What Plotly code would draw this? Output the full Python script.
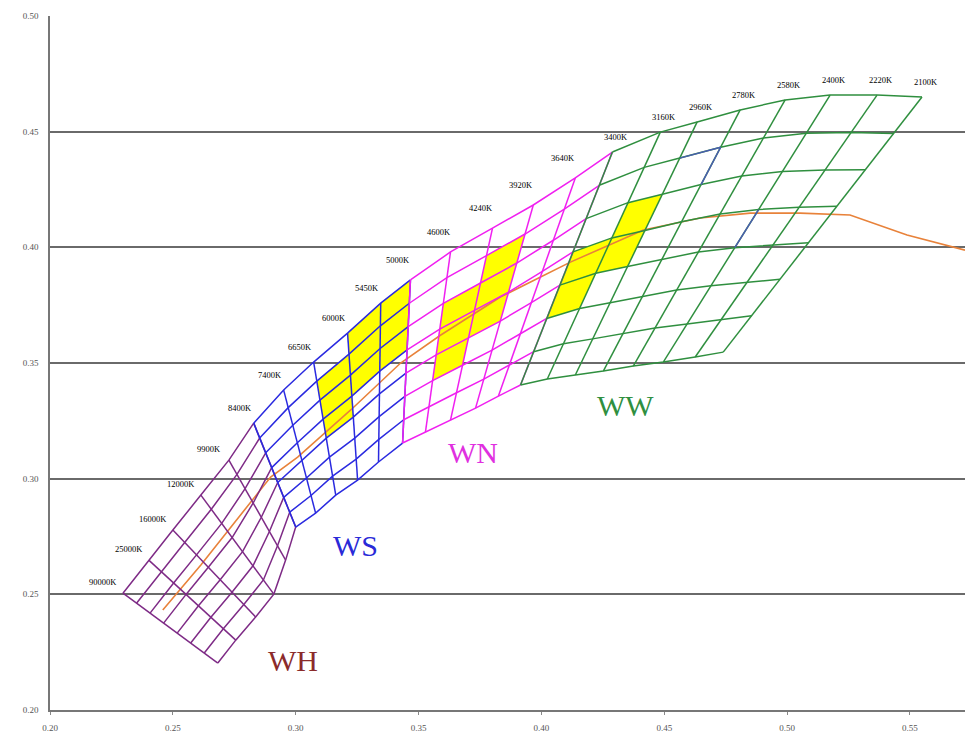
import plotly.graph_objects as go

# ---- Planckian locus (x, y) ----
locus_x = [0.2459, 0.2614, 0.2898, 0.3008, 0.3224, 0.3427, 0.3589, 0.3833, 0.4118, 0.4415, 0.4646, 0.4850, 0.5053, 0.5256, 0.5488, 0.5724]
locus_y = [0.2432, 0.2627, 0.3007, 0.3093, 0.3297, 0.3500, 0.3620, 0.3785, 0.3936, 0.4075, 0.4127, 0.4148, 0.4148, 0.4140, 0.4053, 0.3988]

# ---- WH zone: isotherms (upper end -> lower end) ----
wh_cct = ["90000K", "25000K", "16000K", "12000K", "9900K", "8400K"]
wh_top_x = [0.2297, 0.2402, 0.2500, 0.2614, 0.2728, 0.2829]
wh_top_y = [0.2505, 0.2648, 0.2778, 0.2929, 0.3080, 0.3240]
wh_bot_x = [0.2683, 0.2756, 0.2837, 0.2911, 0.2959, 0.3000]
wh_bot_y = [0.2203, 0.2302, 0.2402, 0.2501, 0.2648, 0.2791]

# ---- WS zone ----
ws_cct = ["8400K", "7400K", "6650K", "6000K", "5450K", "5000K"]
ws_top_x = [0.2829, 0.2951, 0.3073, 0.3211, 0.3346, 0.3467]
ws_top_y = [0.3240, 0.3383, 0.3504, 0.3629, 0.3759, 0.3859]
ws_bot_x = [0.3000, 0.3081, 0.3163, 0.3252, 0.3337, 0.3435]
ws_bot_y = [0.2791, 0.2851, 0.2929, 0.2994, 0.3072, 0.3154]

# ---- WN zone ----
wn_cct = ["5000K", "4600K", "4240K", "3920K", "3640K", "3400K"]
wn_top_x = [0.3467, 0.3630, 0.3801, 0.3967, 0.4138, 0.4289]
wn_top_y = [0.3859, 0.3980, 0.4083, 0.4183, 0.4300, 0.4412]
wn_bot_x = [0.3435, 0.3528, 0.3630, 0.3732, 0.3825, 0.3915]
wn_bot_y = [0.3154, 0.3201, 0.3253, 0.3305, 0.3357, 0.3405]

# ---- WW zone ----
ww_cct = ["3400K", "3160K", "2960K", "2780K", "2580K", "2400K", "2220K", "2100K"]
ww_top_x = [0.4289, 0.4484, 0.4634, 0.4809, 0.4992, 0.5175, 0.5366, 0.5549]
ww_top_y = [0.4412, 0.4498, 0.4542, 0.4594, 0.4637, 0.4658, 0.4658, 0.4650]
ww_bot_x = [0.3915, 0.4024, 0.4138, 0.4252, 0.4374, 0.4496, 0.4626, 0.4740]
ww_bot_y = [0.3405, 0.3431, 0.3448, 0.3465, 0.3487, 0.3504, 0.3526, 0.3547]

# Duv subdivisions per zone
rows = {"WH": 7, "WS": 7, "WN": 7, "WW": 7}

# highlighted bins: (column between isotherm i and i+1, row j counted from the top)
ws_hi = [(2, 1), (2, 2), (2, 3), (3, 0), (3, 1), (3, 2), (4, 0), (4, 1), (4, 2)]
wn_hi = [(1, 2), (1, 3), (1, 4), (2, 1), (2, 2), (2, 3)]
ww_hi = [(0, 3), (0, 4), (1, 2), (1, 3)]

# WW edges drawn in blue: isotherm pieces (isotherm, from row line, to row line)
# and a Duv piece (row line, from isotherm, to isotherm)
ww_blue_iso = [(3, 1, 2), (5, 3, 4)]
ww_blue_duv = [(1, 2, 3)]

# zone: name, CCTs, isotherm ends, line colour, highlighted bins, name colour,
# name position, CCT label offset (px)
zones = [
    ("WH", wh_cct, wh_top_x, wh_top_y, wh_bot_x, wh_bot_y, "#7e2b86", [], "#8b2b2b", 0.2990, 0.2215, (-20, 11)),
    ("WS", ws_cct, ws_top_x, ws_top_y, ws_bot_x, ws_bot_y, "#2a2ae0", ws_hi, "#2a2ad8", 0.3244, 0.2713, (-14, 15)),
    ("WN", wn_cct, wn_top_x, wn_top_y, wn_bot_x, wn_bot_y, "#f020f0", wn_hi, "#e030e0", 0.3720, 0.3115, (-12, 20)),
    ("WW", ww_cct, ww_top_x, ww_top_y, ww_bot_x, ww_bot_y, "#2f8f3f", ww_hi, "#2f8f3f", 0.4341, 0.3318, (4, 15)),
]

fig = go.Figure()


def node(tx, ty, bx, by, i, j, n):
    f = j / n
    return tx[i] + (bx[i] - tx[i]) * f, ty[i] + (by[i] - ty[i]) * f


def seg(p, q, color, width=1.5):
    fig.add_trace(go.Scatter(x=[p[0], q[0]], y=[p[1], q[1]], mode="lines",
                             line=dict(color=color, width=width), hoverinfo="skip", showlegend=False))


# yellow bins first so the grid sits on top
for name, cct, tx, ty, bx, by, col, hi, lab_col, lx, ly, off in zones:
    n = rows[name]
    for i, j in hi:
        p = [node(tx, ty, bx, by, i, j, n), node(tx, ty, bx, by, i + 1, j, n),
             node(tx, ty, bx, by, i + 1, j + 1, n), node(tx, ty, bx, by, i, j + 1, n)]
        fig.add_trace(go.Scatter(x=[q[0] for q in p] + [p[0][0]], y=[q[1] for q in p] + [p[0][1]],
                                 mode="lines", fill="toself", fillcolor="#ffff00",
                                 line=dict(width=0), hoverinfo="skip", showlegend=False))

# locus
fig.add_trace(go.Scatter(x=locus_x, y=locus_y, mode="lines",
                         line=dict(color="#e8823a", width=1.6), hoverinfo="skip", showlegend=False))

for name, cct, tx, ty, bx, by, col, hi, lab_col, lx, ly, off in zones:
    n = rows[name]
    # isotherms
    for i in range(len(cct)):
        fig.add_trace(go.Scatter(x=[tx[i], bx[i]], y=[ty[i], by[i]], mode="lines",
                                 line=dict(color=col, width=1.5), hoverinfo="skip", showlegend=False))
    # constant-Duv lines
    for j in range(n + 1):
        pts = [node(tx, ty, bx, by, i, j, n) for i in range(len(cct))]
        fig.add_trace(go.Scatter(x=[p[0] for p in pts], y=[p[1] for p in pts], mode="lines",
                                 line=dict(color=col, width=1.5), hoverinfo="skip", showlegend=False))
    fig.add_annotation(x=lx, y=ly, text=name, showarrow=False,
                       font=dict(family="Liberation Serif", size=30, color=lab_col))

# blue edges inside the WW grid
nw = rows["WW"]
for i, j0, j1 in ww_blue_iso:
    seg(node(ww_top_x, ww_top_y, ww_bot_x, ww_bot_y, i, j0, nw),
        node(ww_top_x, ww_top_y, ww_bot_x, ww_bot_y, i, j1, nw), "#4a5cb0")
for j, i0, i1 in ww_blue_duv:
    seg(node(ww_top_x, ww_top_y, ww_bot_x, ww_bot_y, i0, j, nw),
        node(ww_top_x, ww_top_y, ww_bot_x, ww_bot_y, i1, j, nw), "#4a5cb0")

# CCT labels along the upper edge; a shared boundary isotherm is labelled
# in the style of the warmer zone
seen = set()
for name, cct, tx, ty, bx, by, col, hi, lab_col, lx, ly, off in reversed(zones):
    for i, t in enumerate(cct):
        if t in seen:
            continue
        seen.add(t)
        fig.add_annotation(x=tx[i], y=ty[i], text=t, showarrow=False, xanchor="center", yanchor="middle",
                           xshift=off[0], yshift=off[1],
                           font=dict(family="Liberation Serif", size=8.5, color="#000000"))

xt = [0.20, 0.25, 0.30, 0.35, 0.40, 0.45, 0.50, 0.55]
yt = [0.20, 0.25, 0.30, 0.35, 0.40, 0.45, 0.50]

fig.update_layout(
    width=965, height=738,
    margin=dict(l=50, r=0, t=16, b=28),
    paper_bgcolor="white", plot_bgcolor="white",
    showlegend=False,
    xaxis=dict(range=[0.20, 0.5724], tickvals=xt, ticktext=[f"{v:.2f}" for v in xt],
               showgrid=False, zeroline=False, showline=True, linecolor="#777777", linewidth=1.5,
               ticks="outside", ticklen=3, tickcolor="#888888", ticklabelstandoff=5,
               tickfont=dict(family="Liberation Serif", size=9, color="#555555")),
    yaxis=dict(range=[0.20, 0.50], tickvals=yt, ticktext=[f"{v:.2f}" for v in yt],
               showgrid=True, gridcolor="#6a6a6a", gridwidth=1.5, zeroline=False,
               showline=True, linecolor="#777777", linewidth=1.5, ticks="",
               ticklabelstandoff=8,
               tickfont=dict(family="Liberation Serif", size=9, color="#555555")),
)

fig.write_html("out.html")
